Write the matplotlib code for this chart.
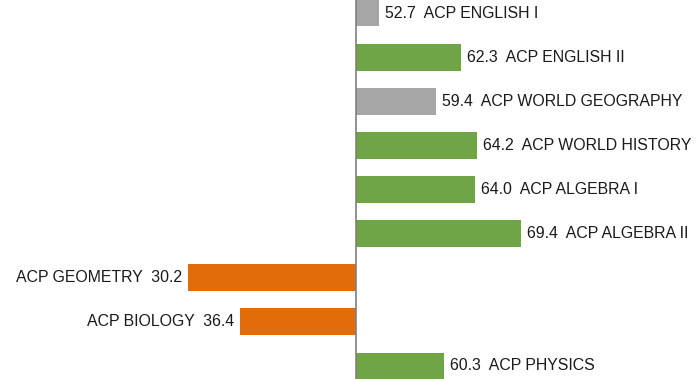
import matplotlib.pyplot as plt

plt.rcParams["font.family"] = ["Liberation Sans", "DejaVu Sans"]

courses = ["ACP ENGLISH I", "ACP ENGLISH II", "ACP WORLD GEOGRAPHY",
           "ACP WORLD HISTORY", "ACP ALGEBRA I", "ACP ALGEBRA II",
           "ACP GEOMETRY", "ACP BIOLOGY", "ACP PHYSICS"]
scores = [52.7, 62.3, 59.4, 64.2, 64.0, 69.4, 30.2, 36.4, 60.3]
baseline = 50.0

GREEN = "#70A545"
GRAY = "#A6A6A6"
ORANGE = "#E36C0A"


def bar_color(v):
    if v >= 60:
        return GREEN
    if v >= baseline:
        return GRAY
    return ORANGE


fig = plt.figure(figsize=(6.96, 3.79), dpi=100)
ax = fig.add_axes([0, 0, 1, 1])

y = list(range(len(courses)))
widths = [v - baseline for v in scores]
ax.barh(y, widths, left=baseline, height=0.6,
        color=[bar_color(v) for v in scores], zorder=2)

# labels sit outside the bar end: right for scores above baseline, left below
for yi, name, v in zip(y, courses, scores):
    if v >= baseline:
        ax.annotate(f"{v:.1f}  {name}", (v, yi), xytext=(6, 0),
                    textcoords="offset pixels", ha="left", va="center",
                    fontsize=11.45, color="#1a1a1a")
    else:
        ax.annotate(f"{name}  {v:.1f}", (v, yi), xytext=(-6, 0),
                    textcoords="offset pixels", ha="right", va="center",
                    fontsize=11.45, color="#1a1a1a")

ax.axvline(baseline, color="#808080", lw=1.2, zorder=3)

ax.set_xlim(8.1, 90.0)
ax.set_ylim(len(courses) - 0.7, -0.3)
ax.axis("off")

fig.savefig("out.png", dpi=100)
